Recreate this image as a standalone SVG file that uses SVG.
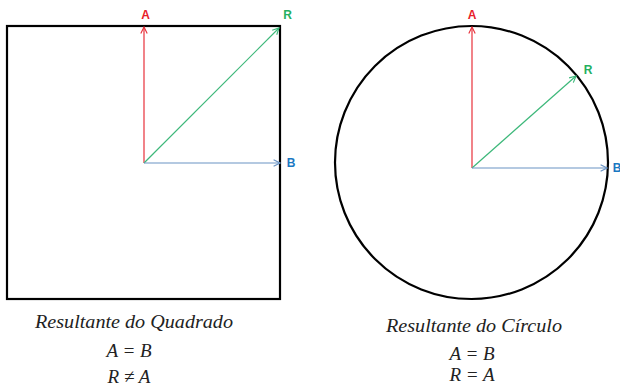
<svg xmlns="http://www.w3.org/2000/svg" width="620" height="386" viewBox="0 0 620 386">
<defs>
<marker id="ar" viewBox="0 0 10 10" refX="9" refY="5" markerWidth="8" markerHeight="8" markerUnits="userSpaceOnUse" orient="auto">
<path d="M1,1 L9,5 L1,9" fill="none" stroke="context-stroke" stroke-width="1.4"/>
</marker>
<marker id="arRed" viewBox="0 0 10 10" refX="9" refY="5" markerWidth="8" markerHeight="8" markerUnits="userSpaceOnUse" orient="auto">
<path d="M1,1 L9,5 L1,9" fill="none" stroke="#e8303a" stroke-width="1.4"/>
</marker>
<marker id="arGreen" viewBox="0 0 10 10" refX="9" refY="5" markerWidth="8" markerHeight="8" markerUnits="userSpaceOnUse" orient="auto">
<path d="M1,1 L9,5 L1,9" fill="none" stroke="#3db87a" stroke-width="1.4"/>
</marker>
<marker id="arBlue" viewBox="0 0 10 10" refX="9" refY="5" markerWidth="8" markerHeight="8" markerUnits="userSpaceOnUse" orient="auto">
<path d="M1,1 L9,5 L1,9" fill="none" stroke="#6a93c4" stroke-width="1.4"/>
</marker>
</defs>
<style>
.shape{fill:none;stroke:#000;stroke-width:2.2}
.va{stroke:#e8303a;stroke-width:1.2;fill:none;marker-end:url(#arRed)}
.vr{stroke:#3db87a;stroke-width:1.2;fill:none;marker-end:url(#arGreen)}
.vb{stroke:#6a93c4;stroke-width:1.2;fill:none;marker-end:url(#arBlue)}
.lbl{font-family:"Liberation Sans",Arial,sans-serif;font-weight:bold;font-size:12px;text-anchor:middle}
.la{fill:#e8202a}.lr{fill:#25b060}.lb{fill:#1a78c2}
.cap{font-family:"Liberation Serif","DejaVu Serif",serif;font-style:italic;font-size:18px;fill:#222;text-anchor:middle}
.eq{font-family:"Liberation Serif","DejaVu Serif",serif;font-style:italic;font-size:19px;fill:#222;text-anchor:middle}
</style>
<rect width="620" height="386" fill="#fff"/>
<g id="square">
<rect class="shape" x="7" y="26" width="273" height="273"/>
</g>
<g id="circle">
<circle class="shape" cx="471.5" cy="162.5" r="136.5"/>
</g>
<g id="connectors">
<line class="va" x1="144" y1="163" x2="144" y2="27"/>
<line class="vr" x1="144" y1="163" x2="279" y2="28"/>
<line class="vb" x1="144" y1="163" x2="280" y2="163"/>
<line class="va" x1="472" y1="168" x2="472" y2="27"/>
<line class="vr" x1="472" y1="168" x2="576" y2="76"/>
<line class="vb" x1="472" y1="168" x2="607" y2="168"/>
</g>
<g id="labels-square">
<text class="lbl la" x="145.5" y="19">A</text>
<text class="lbl lr" x="287.5" y="19">R</text>
<text class="lbl lb" x="291" y="167">B</text>
</g>
<g id="labels-circle">
<text class="lbl la" x="472" y="19">A</text>
<text class="lbl lr" x="588" y="74">R</text>
<text class="lbl lb" x="617" y="172">B</text>
</g>
<g id="caption-square">
<text class="cap" x="134" y="328" textLength="198" lengthAdjust="spacingAndGlyphs">Resultante do Quadrado</text>
<text class="eq" x="129" y="357">A = B</text>
<text class="eq" x="129" y="383">R ≠ A</text>
</g>
<g id="caption-circle">
<text class="cap" x="474" y="332" textLength="176" lengthAdjust="spacingAndGlyphs">Resultante do Círculo</text>
<text class="eq" x="472" y="360">A = B</text>
<text class="eq" x="472" y="381">R = A</text>
</g>
</svg>
